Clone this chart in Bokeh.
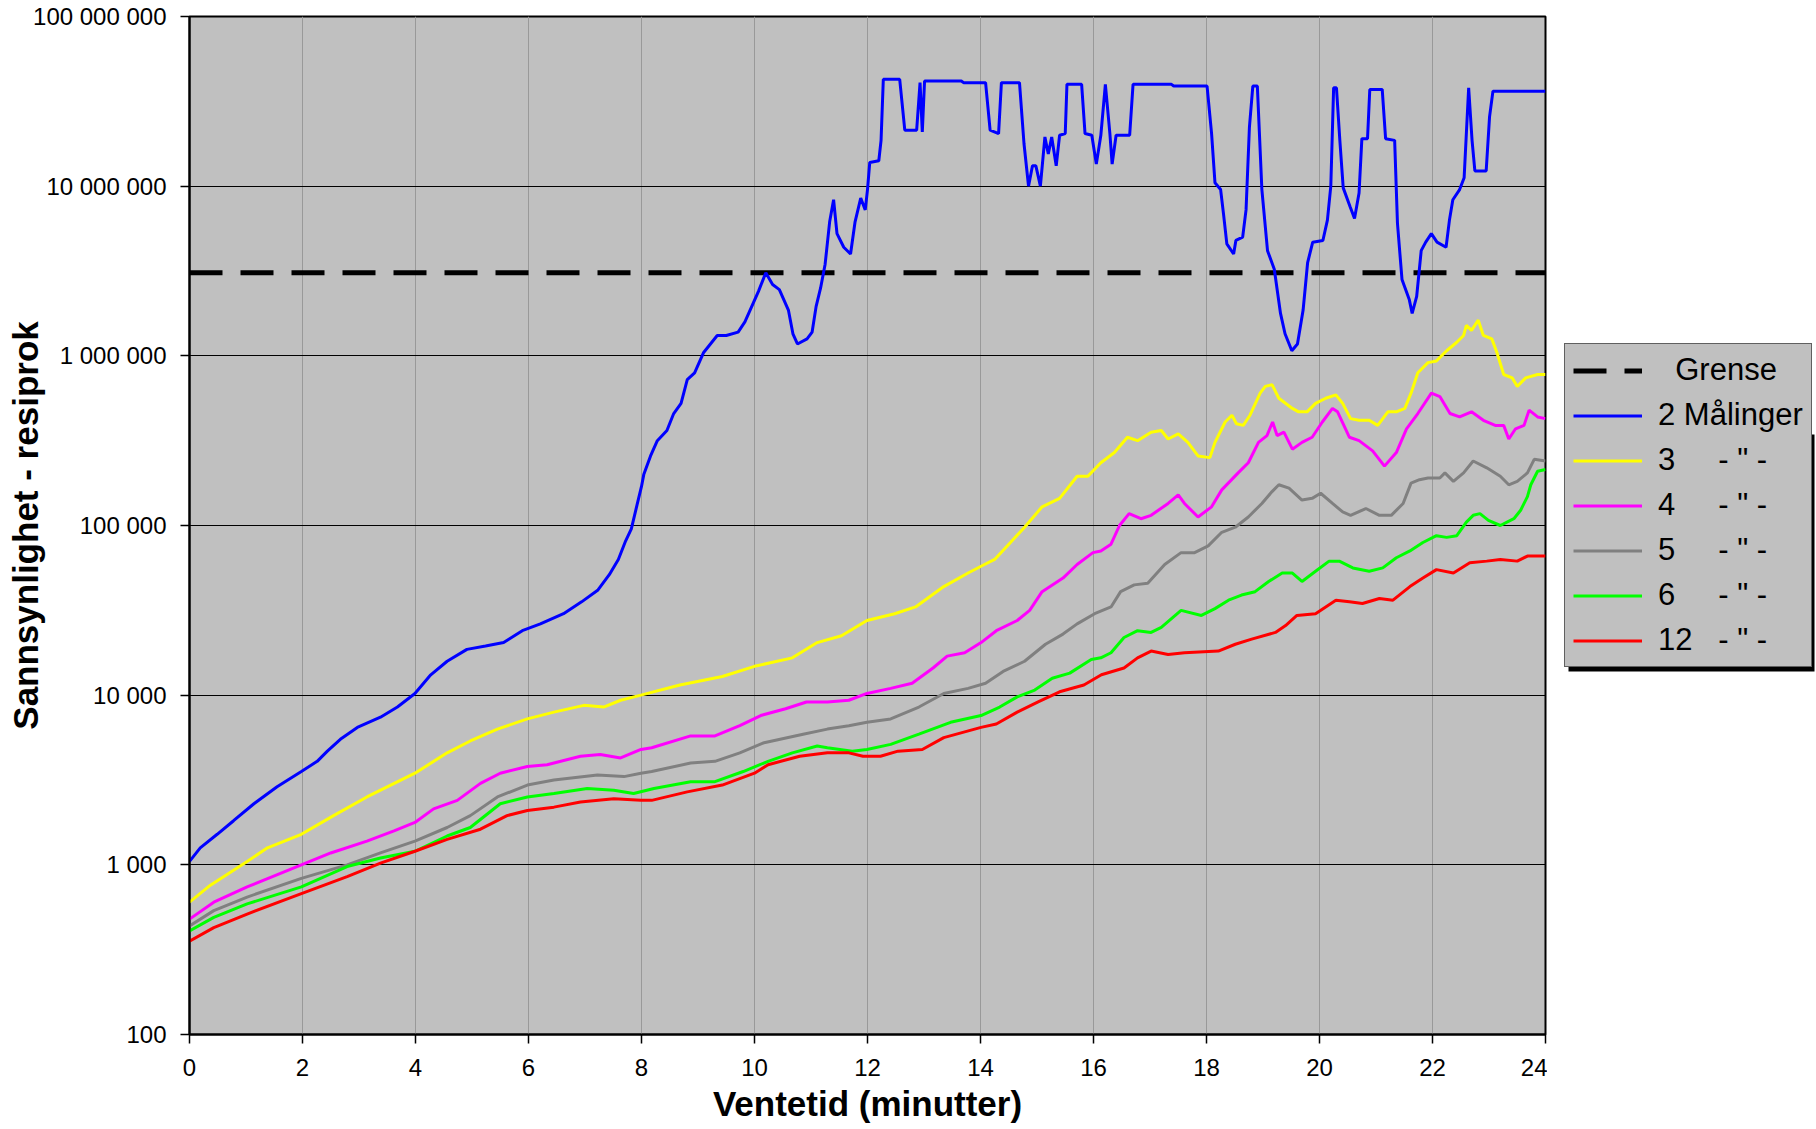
import numpy as np
from bokeh.plotting import figure
from bokeh.layouts import row
from bokeh.models import Range1d, FixedTicker, Legend, LegendItem
from bokeh.embed import file_html
from bokeh.resources import INLINE

# ---- data (x in minutes, values given as log10 of the reciprocal probability) ----
grense_x = [0, 24]
grense_log10 = [6.49, 6.49]

blue_x = [0, 0.19, 0.49, 0.78, 1.14, 1.55, 1.98, 2.26, 2.44, 2.67, 2.97, 3.38, 3.68, 3.99, 4.27, 4.56,
          4.91, 5.24, 5.56, 5.89, 6.21, 6.62, 6.94, 7.23, 7.43, 7.59, 7.72, 7.82, 7.92, 8.0, 8.04, 8.16,
          8.28, 8.45, 8.57, 8.7, 8.81, 8.94, 9.1, 9.34, 9.5, 9.71, 9.83, 9.95, 10.07, 10.2, 10.32, 10.44,
          10.6, 10.68, 10.76, 10.93, 11.02, 11.09, 11.17, 11.25, 11.33, 11.4, 11.46, 11.58, 11.7, 11.78,
          11.88, 11.96, 12.0, 12.04, 12.2, 12.24, 12.28, 12.57, 12.66, 12.87, 12.93, 12.97, 13.01, 13.66,
          13.70, 14.09, 14.17, 14.32, 14.37, 14.69, 14.77, 14.85, 14.92, 14.98, 15.06, 15.14, 15.2, 15.26,
          15.34, 15.4, 15.5, 15.53, 15.79, 15.85, 15.97, 16.05, 16.13, 16.21, 16.29, 16.33, 16.4, 16.64,
          16.7, 17.38, 17.42, 18.01, 18.09, 18.15, 18.25, 18.3, 18.36, 18.48, 18.52, 18.64, 18.7, 18.76,
          18.82, 18.9, 18.98, 19.08, 19.2, 19.31, 19.39, 19.51, 19.61, 19.71, 19.79, 19.88, 20.06, 20.14,
          20.2, 20.25, 20.3, 20.36, 20.42, 20.54, 20.62, 20.7, 20.75, 20.85, 20.89, 21.11, 21.17, 21.33,
          21.38, 21.46, 21.59, 21.64, 21.72, 21.8, 21.88, 21.98, 22.08, 22.24, 22.3, 22.36, 22.48, 22.56,
          22.64, 22.7, 22.75, 22.95, 23.01, 23.07, 24.0]
blue_log10 = [3.02, 3.10, 3.18, 3.26, 3.36, 3.46, 3.55, 3.61, 3.67, 3.74, 3.81, 3.87, 3.93, 4.01, 4.12, 4.20,
              4.27, 4.29, 4.31, 4.38, 4.42, 4.48, 4.55, 4.62, 4.71, 4.80, 4.91, 4.98, 5.12, 5.23, 5.30, 5.41,
              5.50, 5.56, 5.66, 5.72, 5.86, 5.90, 6.02, 6.12, 6.12, 6.14, 6.20, 6.29, 6.38, 6.49, 6.42, 6.39,
              6.27, 6.13, 6.07, 6.10, 6.14, 6.29, 6.40, 6.54, 6.79, 6.92, 6.72, 6.64, 6.60, 6.79,
              6.93, 6.86, 6.98, 7.14, 7.15, 7.27, 7.63, 7.63, 7.33, 7.33, 7.61, 7.32, 7.62, 7.62,
              7.61, 7.61, 7.33, 7.31, 7.61, 7.61, 7.25, 7.00, 7.12, 7.12, 7.00, 7.29, 7.19, 7.29,
              7.12, 7.30, 7.31, 7.60, 7.60, 7.31, 7.30, 7.13, 7.30, 7.60, 7.31, 7.13, 7.30, 7.30,
              7.60, 7.60, 7.59, 7.59, 7.31, 7.02, 6.98, 6.84, 6.66, 6.60, 6.68, 6.70, 6.86, 7.35,
              7.59, 7.59, 6.98, 6.62, 6.51, 6.25, 6.13, 6.03, 6.07, 6.27, 6.55, 6.67, 6.68, 6.80,
              7.00, 7.58, 7.58, 7.27, 6.99, 6.88, 6.81, 6.96, 7.28, 7.28, 7.57, 7.57, 7.28, 7.27,
              6.78, 6.45, 6.33, 6.25, 6.35, 6.62, 6.67, 6.72, 6.67, 6.64, 6.80, 6.92, 6.98, 7.05,
              7.58, 7.27, 7.09, 7.09, 7.41, 7.56, 7.56]

yellow_x = [0, 0.37, 1.02, 1.38, 1.98, 2.55, 3.14, 3.99, 4.56, 4.97, 5.45, 5.98, 6.45, 6.98, 7.33, 7.63,
            7.99, 8.68, 9.43, 10.0, 10.67, 11.11, 11.54, 11.99, 12.48, 12.85, 13.35, 13.78, 14.01, 14.25,
            14.53, 14.78, 15.09, 15.4, 15.71, 15.9, 16.13, 16.37, 16.6, 16.78, 17.02, 17.2, 17.32, 17.5,
            17.67, 17.85, 18.06, 18.15, 18.33, 18.45, 18.53, 18.65, 18.77, 18.95, 19.04, 19.16, 19.28,
            19.52, 19.63, 19.78, 19.93, 20.11, 20.29, 20.41, 20.55, 20.7, 20.88, 21.03, 21.21, 21.36,
            21.51, 21.62, 21.74, 21.92, 22.07, 22.25, 22.43, 22.55, 22.6, 22.69, 22.81, 22.9, 23.05,
            23.14, 23.26, 23.41, 23.5, 23.65, 23.86, 24.0]
yellow_log10 = [2.78, 2.88, 3.02, 3.10, 3.18, 3.29, 3.40, 3.54, 3.66, 3.73, 3.80, 3.86, 3.90, 3.94, 3.93, 3.97,
                4.00, 4.06, 4.11, 4.17, 4.22, 4.31, 4.35, 4.44, 4.48, 4.52, 4.64, 4.72, 4.76, 4.80,
                4.90, 4.99, 5.11, 5.16, 5.29, 5.29, 5.37, 5.43, 5.52, 5.50, 5.55, 5.56, 5.51, 5.54,
                5.49, 5.41, 5.40, 5.49, 5.61, 5.65, 5.60, 5.59, 5.65, 5.78, 5.82, 5.83, 5.75,
                5.69, 5.67, 5.67, 5.72, 5.75, 5.77, 5.72, 5.63, 5.62, 5.62, 5.59, 5.67, 5.67,
                5.69, 5.78, 5.90, 5.96, 5.97, 6.03, 6.08, 6.12, 6.18, 6.15, 6.21, 6.12, 6.10,
                6.02, 5.89, 5.87, 5.82, 5.87, 5.89, 5.89]

magenta_x = [0, 0.43, 1.02, 1.61, 1.98, 2.5, 3.14, 3.62, 3.99, 4.32, 4.74, 5.15, 5.5, 5.98, 6.33, 6.92,
             7.27, 7.63, 7.99, 8.18, 8.87, 9.3, 9.74, 10.11, 10.55, 10.92, 11.29, 11.67, 11.99, 12.41,
             12.79, 13.16, 13.41, 13.72, 14.01, 14.28, 14.65, 14.87, 15.09, 15.46, 15.71, 15.99, 16.13,
             16.31, 16.46, 16.63, 16.84, 17.02, 17.32, 17.5, 17.61, 17.85, 18.09, 18.27, 18.56, 18.74,
             18.92, 19.07, 19.17, 19.25, 19.37, 19.52, 19.69, 19.87, 20.05, 20.23, 20.32, 20.53, 20.7,
             20.94, 21.15, 21.36, 21.54, 21.74, 21.98, 22.13, 22.31, 22.48, 22.69, 22.9, 23.11, 23.26,
             23.35, 23.47, 23.62, 23.71, 23.86, 24.0]
magenta_log10 = [2.68, 2.78, 2.87, 2.95, 3.00, 3.07, 3.14, 3.20, 3.25, 3.33, 3.38, 3.48, 3.54, 3.58, 3.59, 3.64,
                 3.65, 3.63, 3.68, 3.69, 3.76, 3.76, 3.82, 3.88, 3.92, 3.96, 3.96, 3.97, 4.01, 4.04,
                 4.07, 4.16, 4.23, 4.25, 4.31, 4.38, 4.44, 4.50, 4.61, 4.69, 4.77, 4.84, 4.85,
                 4.89, 5.00, 5.07, 5.04, 5.06, 5.13, 5.18, 5.13, 5.05, 5.11, 5.21, 5.31, 5.37,
                 5.49, 5.53, 5.61, 5.53, 5.55, 5.45, 5.49, 5.52, 5.61, 5.69, 5.67, 5.52, 5.50,
                 5.44, 5.35, 5.43, 5.57, 5.66, 5.78, 5.76, 5.66, 5.64, 5.67, 5.62, 5.59, 5.59,
                 5.51, 5.57, 5.59, 5.68, 5.64, 5.63]

gray_x = [0, 0.43, 1.02, 1.98, 2.79, 3.38, 3.99, 4.56, 4.97, 5.45, 5.98, 6.45, 7.22, 7.69, 7.99, 8.18,
          8.87, 9.3, 9.74, 10.17, 10.86, 11.29, 11.67, 11.99, 12.41, 12.91, 13.35, 13.78, 14.09, 14.4,
          14.78, 15.15, 15.46, 15.71, 16.02, 16.31, 16.48, 16.72, 16.96, 17.26, 17.55, 17.79, 18.03,
          18.27, 18.51, 18.74, 18.98, 19.16, 19.28, 19.46, 19.69, 19.87, 20.02, 20.23, 20.41, 20.55,
          20.82, 21.06, 21.27, 21.48, 21.62, 21.77, 21.92, 22.13, 22.22, 22.37, 22.55, 22.72, 22.96,
          23.2, 23.35, 23.5, 23.68, 23.8, 24.0]
gray_log10 = [2.64, 2.73, 2.81, 2.92, 3.00, 3.07, 3.14, 3.22, 3.29, 3.40, 3.47, 3.50, 3.53, 3.52, 3.54, 3.55,
              3.60, 3.61, 3.66, 3.72, 3.77, 3.80, 3.82, 3.84, 3.86, 3.93, 4.01, 4.04, 4.07, 4.14,
              4.20, 4.30, 4.36, 4.42, 4.48, 4.52, 4.61, 4.65, 4.66, 4.77, 4.84, 4.84, 4.88,
              4.96, 4.99, 5.05, 5.13, 5.20, 5.24, 5.22, 5.15, 5.16, 5.19, 5.13, 5.08, 5.06,
              5.10, 5.06, 5.06, 5.13, 5.25, 5.27, 5.28, 5.28, 5.31, 5.26, 5.31, 5.38, 5.34,
              5.29, 5.24, 5.26, 5.31, 5.39, 5.38]

green_x = [0, 0.43, 1.02, 1.98, 2.79, 3.38, 3.99, 4.56, 4.97, 5.5, 5.98, 6.45, 7.04, 7.51, 7.86, 8.22,
           8.87, 9.3, 9.8, 10.24, 10.67, 11.11, 11.29, 11.73, 11.99, 12.41, 12.91, 13.47, 14.01, 14.34,
           14.65, 14.96, 15.27, 15.58, 15.96, 16.13, 16.31, 16.54, 16.78, 17.02, 17.2, 17.55, 17.91,
           18.15, 18.39, 18.62, 18.86, 19.1, 19.34, 19.52, 19.69, 19.93, 20.17, 20.35, 20.59, 20.88,
           21.12, 21.36, 21.6, 21.83, 22.07, 22.25, 22.43, 22.6, 22.72, 22.84, 22.99, 23.2, 23.44,
           23.56, 23.68, 23.74, 23.86, 24.0]
green_log10 = [2.61, 2.69, 2.77, 2.87, 2.99, 3.04, 3.08, 3.17, 3.22, 3.36, 3.40, 3.42, 3.45, 3.44, 3.42, 3.45,
               3.49, 3.49, 3.55, 3.61, 3.66, 3.70, 3.69, 3.67, 3.68, 3.71, 3.77, 3.84, 3.88, 3.93,
               3.99, 4.03, 4.10, 4.13, 4.21, 4.22, 4.25, 4.34, 4.38, 4.37, 4.40, 4.50, 4.47,
               4.51, 4.56, 4.59, 4.61, 4.67, 4.72, 4.72, 4.67, 4.73, 4.79, 4.79, 4.75, 4.73,
               4.75, 4.81, 4.85, 4.90, 4.94, 4.93, 4.94, 5.02, 5.06, 5.07, 5.03, 5.00, 5.04,
               5.09, 5.17, 5.24, 5.32, 5.33]

red_x = [0, 0.43, 1.02, 1.98, 2.79, 3.38, 3.99, 4.56, 5.15, 5.62, 5.98, 6.45, 6.92, 7.51, 7.99, 8.18,
         8.81, 9.43, 10.0, 10.24, 10.8, 11.29, 11.67, 11.92, 12.23, 12.54, 12.97, 13.35, 14.01, 14.28,
         14.65, 15.02, 15.4, 15.83, 16.14, 16.54, 16.78, 17.02, 17.32, 17.61, 18.21, 18.51, 18.8,
         19.22, 19.4, 19.6, 19.93, 20.29, 20.53, 20.76, 21.06, 21.3, 21.6, 21.83, 22.07, 22.37,
         22.66, 22.96, 23.2, 23.5, 23.68, 24.0]
red_log10 = [2.55, 2.63, 2.71, 2.83, 2.93, 3.01, 3.08, 3.15, 3.21, 3.29, 3.32, 3.34, 3.37, 3.39, 3.38, 3.38,
             3.43, 3.47, 3.54, 3.59, 3.64, 3.66, 3.66, 3.64, 3.64, 3.67, 3.68, 3.75, 3.81, 3.83,
             3.90, 3.96, 4.02, 4.06, 4.12, 4.16, 4.22, 4.26, 4.24, 4.25, 4.26, 4.30, 4.33,
             4.37, 4.41, 4.47, 4.48, 4.56, 4.55, 4.54, 4.57, 4.56, 4.64, 4.69, 4.74, 4.72,
             4.78, 4.79, 4.80, 4.79, 4.82, 4.82]

NB = "\u00a0"
legend_labels = [NB * 2 + "Grense", "2 Målinger",
                 "3" + NB * 5 + "- \" -", "4" + NB * 5 + "- \" -", "5" + NB * 5 + "- \" -",
                 "6" + NB * 5 + "- \" -", "12" + NB * 3 + "- \" -"]
x_ticks = [0, 2, 4, 6, 8, 10, 12, 14, 16, 18, 20, 22, 24]
y_ticks = [100, 1000, 10000, 100000, 1000000, 10000000, 100000000]
y_tick_labels = ["100", "1 000", "10 000", "100 000", "1 000 000", "10 000 000", "100 000 000"]

FONT = "Liberation Sans"

# ---------------- main chart ----------------
p = figure(width=1547, height=1129, y_axis_type="log",
           x_range=Range1d(0, 24), y_range=Range1d(100, 1e8),
           output_backend="svg", toolbar_location=None,
           min_border_left=189, min_border_right=2, min_border_top=16, min_border_bottom=95)

p.background_fill_color = "#C0C0C0"
p.border_fill_color = "white"
p.outline_line_color = "black"
p.outline_line_width = 2

p.xgrid.grid_line_color = "#999999"
p.xgrid.grid_line_width = 1
p.ygrid.grid_line_color = "black"
p.ygrid.grid_line_width = 1.2

p.xaxis.ticker = FixedTicker(ticks=x_ticks)
p.yaxis.ticker = FixedTicker(ticks=y_ticks)
p.yaxis.major_label_overrides = {t: s for t, s in zip(y_ticks, y_tick_labels)}

for ax in (p.xaxis[0], p.yaxis[0]):
    ax.axis_line_color = "black"
    ax.axis_line_width = 2
    ax.major_tick_line_color = "black"
    ax.major_tick_line_width = 1.5
    ax.major_tick_in = 0
    ax.major_tick_out = 9
    ax.minor_tick_line_color = None
    ax.major_label_text_font = FONT
    ax.major_label_text_font_size = "24px"
    ax.major_label_text_color = "black"
    ax.axis_label_text_font = FONT
    ax.axis_label_text_font_style = "bold"
    ax.axis_label_text_color = "black"

p.xaxis.major_label_standoff = 15
p.yaxis.major_label_standoff = 14
p.xaxis.axis_label = "Ventetid (minutter)"
p.xaxis.axis_label_text_font_size = "35px"
p.xaxis.axis_label_standoff = 5
p.yaxis.axis_label = "Sannsynlighet - resiprok"
p.yaxis.axis_label_text_font_size = "35px"
p.yaxis.axis_label_standoff = -15

styles = [
    ("black", 5, "33 18"),
    ("#0000FF", 3, "solid"),
    ("#FFFF00", 3, "solid"),
    ("#FF00FF", 3, "solid"),
    ("#808080", 3, "solid"),
    ("#00FF00", 3, "solid"),
    ("#FF0000", 3, "solid"),
]
series = [(grense_x, grense_log10), (blue_x, blue_log10), (yellow_x, yellow_log10),
          (magenta_x, magenta_log10), (gray_x, gray_log10), (green_x, green_log10),
          (red_x, red_log10)]

for (xs, logs), (color, lw, dash) in zip(series, styles):
    p.line(xs, 10 ** np.array(logs), line_color=color, line_width=lw, line_dash=dash)

# ---------------- legend panel (to the right of the chart) ----------------
LF_W = 269
lf = figure(width=LF_W, height=1129, x_range=Range1d(0, 1), y_range=Range1d(0, 1),
            output_backend="svg", toolbar_location=None,
            x_axis_location=None, y_axis_location=None, min_border=0)
lf.grid.visible = False
lf.outline_line_color = None
lf.background_fill_color = "white"
lf.border_fill_color = "white"

# drop shadow behind the legend box (frame of this panel is 269 x 1018 px)
lf.quad(left=[21 / LF_W], right=[267 / LF_W], bottom=[363 / 1018], top=[600 / 1018],
        fill_color="black", line_color=None)

# key renderers: same styles, placed outside the visible range (only used for legend keys)
key_renderers = [lf.line([5, 6], [5, 5], line_color=c, line_width=lw, line_dash=d) for c, lw, d in styles]
items = [LegendItem(label=lab, renderers=[r]) for lab, r in zip(legend_labels, key_renderers)]

legend = Legend(items=items, location=(17, 367), margin=0, padding=8, spacing=9,
                glyph_width=69, glyph_height=35, label_height=35, label_standoff=16,
                label_text_font=FONT, label_text_font_size="31px", label_text_color="black",
                background_fill_color="#C0C0C0", background_fill_alpha=1.0,
                border_line_color="black", border_line_width=1.5)
lf.add_layout(legend, "center")

layout = row(p, lf, spacing=0)
open("out.html", "w").write(file_html(layout, INLINE))
